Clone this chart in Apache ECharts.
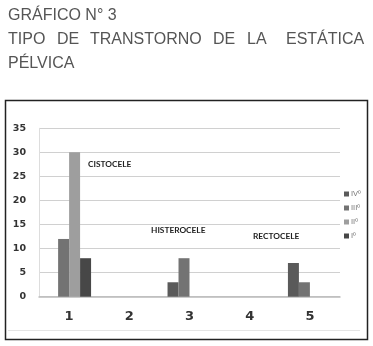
<!DOCTYPE html>
<html><head><meta charset="utf-8">
<script src="https://cdn.jsdelivr.net/npm/echarts@6/dist/echarts.min.js"></script>
<style>html,body{margin:0;padding:0;background:#fff}#c{width:373px;height:346px}</style>
</head><body><div id="c"></div>
<script>
const categories = ['1', '2', '3', '4', '5'];
const seriesNames = ['IVº', 'IIIº', 'IIº', 'Iº'];
const ivValues = [0, 0, 3, 0, 7];
const iiiValues = [12, 0, 8, 0, 3];
const iiValues = [30, 0, 0, 0, 0];
const iValues = [8, 0, 0, 0, 0];
const yTicks = [0, 5, 10, 15, 20, 25, 30, 35];
const annotations = ['CISTOCELE', 'HISTEROCELE', 'RECTOCELE'];
const titleLine1 = 'GRÁFICO N° 3';
const titleWords = ['TIPO', 'DE', 'TRANSTORNO', 'DE', 'LA', 'ESTÁTICA'];
const titleLine3 = 'PÉLVICA';

const colors = ['#5a5a5a', '#737373', '#9e9e9e', '#474747'];
const values = [ivValues, iiiValues, iiValues, iValues];

const chart = echarts.init(document.getElementById('c'));
const titleFont = '16px "Liberation Sans", Arial, sans-serif';
const wordX = [8, 57, 90, 213, 247, 286];
const graphics = [
  {type: 'rect', shape: {x: 5.5, y: 100.5, width: 362, height: 239}, style: {fill: 'none', stroke: '#222', lineWidth: 1.5}, z: 10},
  {type: 'line', shape: {x1: 8, y1: 330.5, x2: 360, y2: 330.5}, style: {stroke: '#e4e4e4', lineWidth: 1}},
  {type: 'text', left: 8, top: 8, style: {text: titleLine1, font: titleFont, fill: '#555'}},
  {type: 'text', left: 8, top: 56, style: {text: titleLine3, font: titleFont, fill: '#555'}}
];
titleWords.forEach((w, k) => graphics.push({type: 'text', left: wordX[k], top: 32, style: {text: w, font: titleFont, fill: '#555'}}));
const annPos = [[88, 160], [151, 226], [253, 232]];
annotations.forEach((a, k) => graphics.push({type: 'text', left: annPos[k][0], top: annPos[k][1], style: {text: a, font: 'bold 8.3px Lato, sans-serif', fill: '#222'}}));

chart.setOption({
  animation: false,
  color: colors,
  grid: {left: 39, right: 33, top: 128.3, bottom: 49.3},
  legend: {
    orient: 'vertical', left: 339, top: 184.5, itemWidth: 5, itemHeight: 5, itemGap: 5,
    icon: 'rect',
    data: seriesNames,
    textStyle: {fontSize: 7.5, color: '#777', lineHeight: 9, padding: [0, 0, 0, -3]}
  },
  xAxis: {
    type: 'category', data: categories,
    axisLine: {lineStyle: {color: '#bbb', width: 1.5}},
    axisTick: {show: false},
    axisLabel: {fontSize: 13, fontWeight: 'bold', color: '#333', margin: 13, fontFamily: '"DejaVu Sans", sans-serif'}
  },
  yAxis: {
    type: 'value', min: yTicks[0], max: yTicks[yTicks.length - 1], interval: 5,
    axisLine: {show: true, lineStyle: {color: '#ddd'}},
    axisTick: {show: false},
    splitLine: {lineStyle: {color: '#d0d0d0', width: 1}},
    axisLabel: {fontSize: 9.5, fontWeight: 'bold', color: '#333', margin: 13, fontFamily: '"DejaVu Sans", sans-serif'}
  },
  series: seriesNames.map((n, k) => ({
    name: n, type: 'bar', data: values[k], barGap: '0%', barCategoryGap: '27%'
  })),
  graphic: graphics
});
</script></body></html>
